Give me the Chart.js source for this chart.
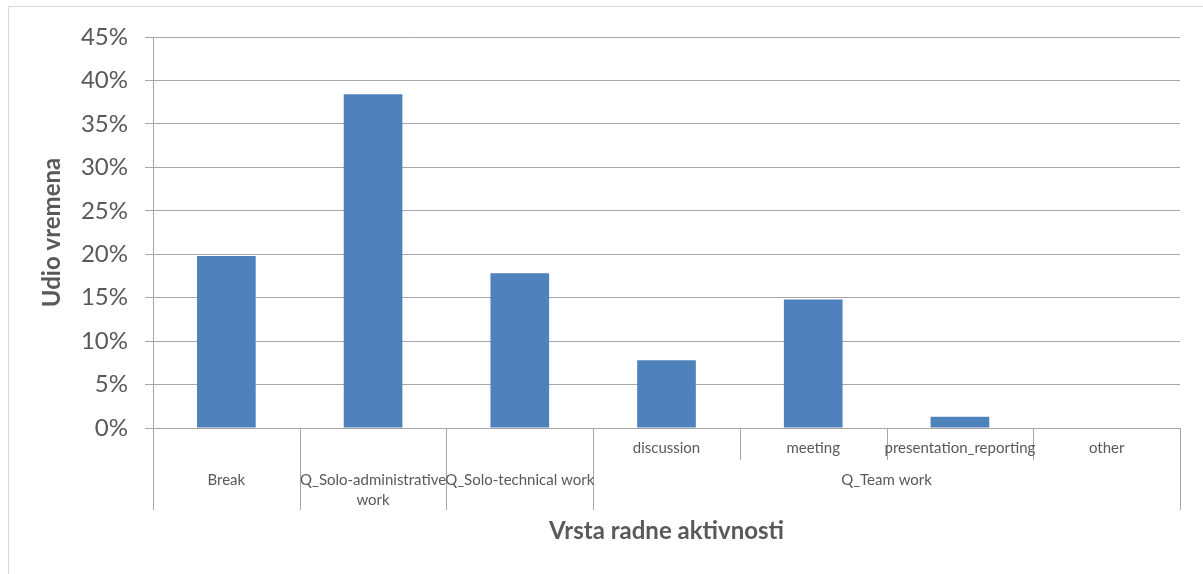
<!DOCTYPE html>
<html>
<head>
<meta charset="utf-8">
<script src="https://cdn.jsdelivr.net/npm/chart.js@4/dist/chart.umd.min.js"></script>
<style>
  body { margin: 0; background: #fff; }
  #wrap { position: relative; width: 1203px; height: 574px; }
</style>
</head>
<body>
<div id="wrap"><canvas id="chart"></canvas></div>
<script>
// category levels (Excel style two-level axis)
const activities = ['Break', 'Q_Solo-administrative work', 'Q_Solo-technical work', 'discussion', 'meeting', 'presentation_reporting', 'other'];
const groups = ['Break', 'Q_Solo-administrative work', 'Q_Solo-technical work', 'Q_Team work', 'Q_Team work', 'Q_Team work', 'Q_Team work'];
const subLabels = ['', '', '', 'discussion', 'meeting', 'presentation_reporting', 'other'];
const timeShare = [0.198, 0.384, 0.178, 0.078, 0.148, 0.013, 0];
const yTicks = [0, 0.05, 0.10, 0.15, 0.20, 0.25, 0.30, 0.35, 0.40, 0.45];

const gridColor = '#a6a6a6';
const textColor = '#595959';
const fontFamily = 'Lato, "Open Sans", sans-serif';

// draws the outer frame and the two-row category labels
const multiLevelAxis = {
    id: 'multiLevelAxis',
    afterDraw(chart) {
        const ctx = chart.ctx;
        const x = chart.scales.x;
        const area = chart.chartArea;
        const step = x.getPixelForValue(1) - x.getPixelForValue(0);
        const rowTop = area.bottom;
        const rowMid = area.bottom + 32;
        const rowEnd = area.bottom + 82;

        ctx.save();
        // frame (left + top, picture is cropped on the other sides)
        ctx.strokeStyle = '#d9d9d9';
        ctx.lineWidth = 1;
        ctx.beginPath();
        ctx.moveTo(8.5, 574);
        ctx.lineTo(8.5, 6.5);
        ctx.lineTo(1203, 6.5);
        ctx.stroke();

        ctx.strokeStyle = gridColor;
        ctx.beginPath();
        for (let i = 0; i <= activities.length; i++) {
            const px = Math.round(x.getPixelForValue(i) - step / 2) + 0.5;
            let full = true;
            if (i > 0 && i < activities.length && groups[i] === groups[i - 1]) full = false;
            ctx.moveTo(px, rowTop);
            ctx.lineTo(px, full ? rowEnd : rowMid);
        }
        ctx.stroke();

        ctx.fillStyle = textColor;
        ctx.font = '15px ' + fontFamily;
        ctx.textAlign = 'center';
        ctx.textBaseline = 'middle';

        // sub level labels
        subLabels.forEach((lab, i) => {
            if (lab) ctx.fillText(lab, x.getPixelForValue(i), rowTop + 20);
        });

        // group labels, wrapped to the width of their span
        let i = 0;
        while (i < groups.length) {
            let j = i;
            while (j + 1 < groups.length && groups[j + 1] === groups[i]) j++;
            const cx = (x.getPixelForValue(i) + x.getPixelForValue(j)) / 2;
            const maxW = step * (j - i + 1) + 6;
            const words = groups[i].split(' ');
            const lines = [];
            let cur = '';
            words.forEach(w => {
                const test = cur ? cur + ' ' + w : w;
                if (ctx.measureText(test).width > maxW && cur) {
                    lines.push(cur);
                    cur = w;
                } else {
                    cur = test;
                }
            });
            lines.push(cur);
            lines.forEach((ln, k) => ctx.fillText(ln, cx, rowTop + 52 + k * 20));
            i = j + 1;
        }
        ctx.restore();
    }
};

new Chart(document.getElementById('chart'), {
    type: 'bar',
    data: {
        labels: activities,
        datasets: [{
            data: timeShare,
            backgroundColor: '#4f81bd',
            borderWidth: 0,
            barPercentage: 0.4,
            categoryPercentage: 1.0
        }]
    },
    options: {
        responsive: true,
        maintainAspectRatio: false,
        animation: false,
        layout: { padding: { top: 37, right: 23, bottom: 0, left: 0 } },
        plugins: {
            legend: { display: false },
            tooltip: { enabled: false }
        },
        scales: {
            x: {
                offset: true,
                grid: { display: false },
                border: { display: true, color: gridColor, width: 1 },
                ticks: { display: false },
                title: {
                    display: true,
                    text: 'Vrsta radne aktivnosti',
                    color: textColor,
                    font: { family: fontFamily, size: 24, weight: 'bold' },
                    padding: { top: 0, bottom: 28 }
                },
                afterFit(scale) { scale.height = 146; }
            },
            y: {
                min: 0,
                max: 0.45,
                afterBuildTicks(scale) { scale.ticks = yTicks.map(v => ({ value: v })); },
                grid: { color: gridColor, tickLength: 8, drawTicks: true },
                border: { display: true, color: gridColor },
                ticks: {
                    color: textColor,
                    padding: 17,
                    font: { family: fontFamily, size: 24 },
                    callback: v => Math.round(v * 100) + '%'
                },
                title: {
                    display: true,
                    text: 'Udio vremena',
                    color: textColor,
                    font: { family: fontFamily, size: 24, weight: 'bold' },
                    padding: { top: 38, bottom: 0 }
                },
                afterFit(scale) { scale.width = 153; }
            }
        }
    },
    plugins: [multiLevelAxis]
});
</script>
</body>
</html>
